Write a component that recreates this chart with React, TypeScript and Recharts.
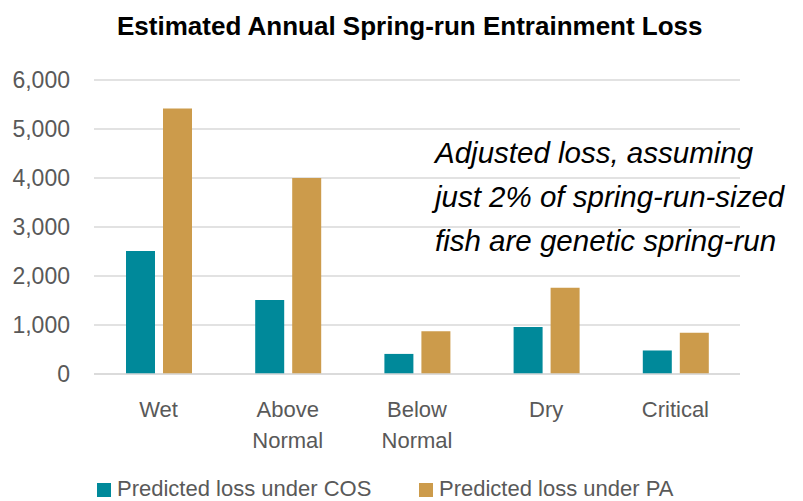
import { BarChart, Bar, XAxis, YAxis, CartesianGrid } from "recharts";

const categories = ["Wet", "Above Normal", "Below Normal", "Dry", "Critical"];
const cosLoss = [2510, 1510, 410, 960, 480];
const paLoss = [5420, 4000, 870, 1760, 840];
const yTicks = [0, 1000, 2000, 3000, 4000, 5000, 6000];

const seriesNames = ["Predicted loss under COS", "Predicted loss under PA"];
const seriesColors = ["#00899A", "#CC9B4B"];

const title = "Estimated Annual Spring-run Entrainment Loss";
const noteLines = [
  "Adjusted loss, assuming",
  "just 2% of spring-run-sized",
  "fish are genetic spring-run",
];

const data = categories.map((c, i) => ({
  name: c,
  cos: cosLoss[i],
  pa: paLoss[i],
}));

const FONT = '"Liberation Sans", Arial, sans-serif';

// two-line category labels ("Above Normal" -> Above / Normal)
function CategoryTick(props: any) {
  const { x, y, payload } = props;
  const words = String(payload.value).split(" ");
  return (
    <text
      x={x}
      y={y}
      textAnchor="middle"
      fill="#595959"
      fontSize={22}
      fontFamily={FONT}
    >
      {words.map((w, i) => (
        <tspan key={i} x={x} dy={i === 0 ? 43 : 31}>
          {w}
        </tspan>
      ))}
    </text>
  );
}

export default function App() {
  return (
    <div
      style={{
        position: "absolute",
        left: 0,
        top: 0,
        width: 803,
        height: 501,
        background: "#fff",
        fontFamily: FONT,
        overflow: "hidden",
      }}
    >
      <div
        style={{
          position: "absolute",
          left: 117,
          top: 11,
          fontSize: 26,
          lineHeight: "30px",
          fontWeight: "bold",
          color: "#000",
          whiteSpace: "nowrap",
        }}
      >
        {title}
      </div>

      <BarChart
        width={803}
        height={501}
        data={data}
        margin={{ top: 80, right: 63, left: 0, bottom: 47 }}
        barSize={29}
        barGap={8}
      >
        <CartesianGrid vertical={false} stroke="#d9d9d9" strokeWidth={1.5} />
        <XAxis
          dataKey="name"
          height={80}
          tickLine={false}
          tickSize={0}
          tickMargin={0}
          axisLine={{ stroke: "#d9d9d9", strokeWidth: 1.5 }}
          tick={<CategoryTick />}
          interval={0}
        />
        <YAxis
          width={94}
          domain={[0, 6000]}
          ticks={yTicks}
          axisLine={false}
          tickLine={false}
          tickSize={0}
          tickMargin={24}
          tickFormatter={(v: number) => v.toLocaleString("en-US")}
          tick={{ fill: "#595959", fontSize: 23, fontFamily: FONT }}
        />
        <Bar
          dataKey="cos"
          name={seriesNames[0]}
          fill={seriesColors[0]}
          isAnimationActive={false}
        />
        <Bar
          dataKey="pa"
          name={seriesNames[1]}
          fill={seriesColors[1]}
          isAnimationActive={false}
        />
      </BarChart>

      <div
        style={{
          position: "absolute",
          left: 435,
          top: 131,
          fontSize: 29.5,
          lineHeight: "44px",
          fontStyle: "italic",
          color: "#000",
          whiteSpace: "nowrap",
        }}
      >
        {noteLines.map((l, i) => (
          <div key={i}>{l}</div>
        ))}
      </div>

      {seriesNames.map((n, i) => (
        <div
          key={n}
          style={{
            position: "absolute",
            left: i === 0 ? 97 : 419,
            top: 476,
            height: 26,
            display: "flex",
            alignItems: "center",
            fontSize: 22,
            lineHeight: "26px",
            color: "#595959",
            whiteSpace: "nowrap",
          }}
        >
          <span
            style={{
              display: "inline-block",
              width: 14,
              height: 14,
              background: seriesColors[i],
              marginRight: 6,
              marginTop: 2,
            }}
          />
          {n}
        </div>
      ))}
    </div>
  );
}
